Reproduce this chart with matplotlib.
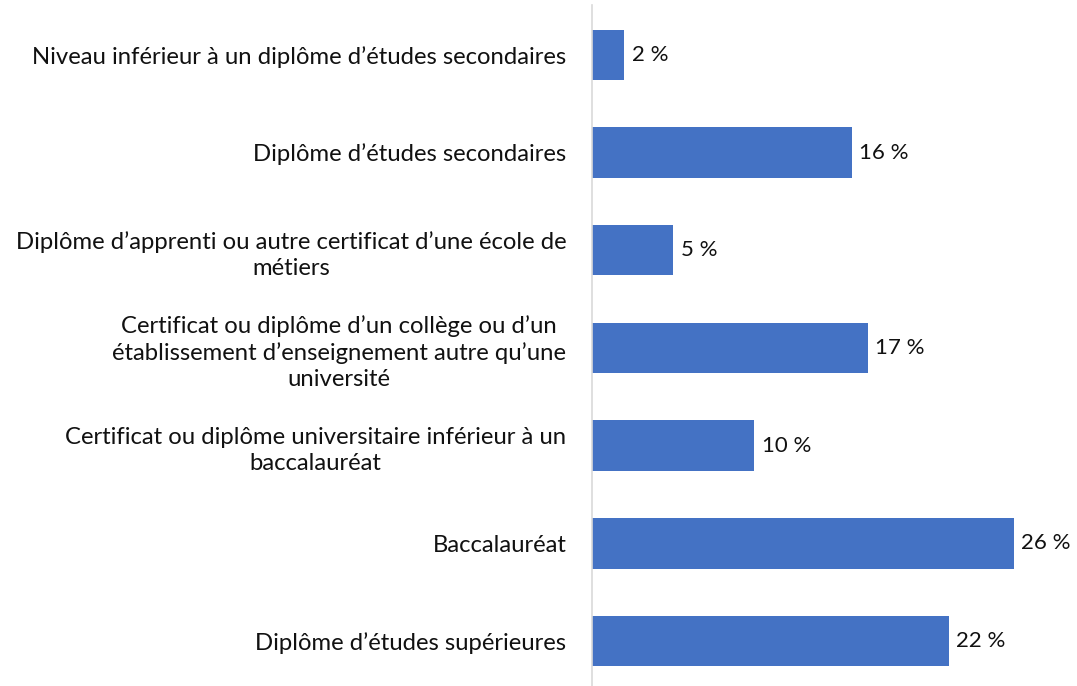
import matplotlib
matplotlib.use("Agg")
import matplotlib.pyplot as plt

categories = [
    "Niveau inférieur à un diplôme d’études secondaires",
    "Diplôme d’études secondaires",
    "Diplôme d’apprenti ou autre certificat d’une école de\nmétiers",
    "Certificat ou diplôme d’un collège ou d’un\nétablissement d’enseignement autre qu’une\nuniversité",
    "Certificat ou diplôme universitaire inférieur à un\nbaccalauréat",
    "Baccalauréat",
    "Diplôme d’études supérieures",
]
values = [2, 16, 5, 17, 10, 26, 22]
value_labels = ["2 %", "16 %", "5 %", "17 %", "10 %", "26 %", "22 %"]

plt.rcParams["font.family"] = ["Lato", "DejaVu Sans"]

fig = plt.figure(figsize=(10.77, 6.86), dpi=100)
ax = fig.add_axes([592 / 1077, 0.0, 1 - 592 / 1077, 681 / 686])

pos = list(range(len(categories)))
ax.barh(pos, values, height=0.515, color="#4472C4")
ax.set_ylim(len(categories) - 0.54, -0.51)
ax.set_xlim(0, 29.9)

ax.set_yticks(pos)
ax.set_yticklabels(categories, fontsize=17.2, color="#111111")
for lab in ax.get_yticklabels():
    lab.set_multialignment("center")
    lab.set_linespacing(1.3)
ax.tick_params(axis="y", length=0, pad=18.5)
ax.set_xticks([])

# value labels just right of each bar
for p, v, t in zip(pos, values, value_labels):
    ax.annotate(t, (v, p), xytext=(5.5, 0), textcoords="offset points",
                ha="left", va="center", fontsize=16, color="#111111")

for s in ["top", "right", "bottom"]:
    ax.spines[s].set_visible(False)
ax.spines["left"].set_color("#d9d9d9")
ax.spines["left"].set_linewidth(1.2)

fig.savefig("out.png", dpi=100)
